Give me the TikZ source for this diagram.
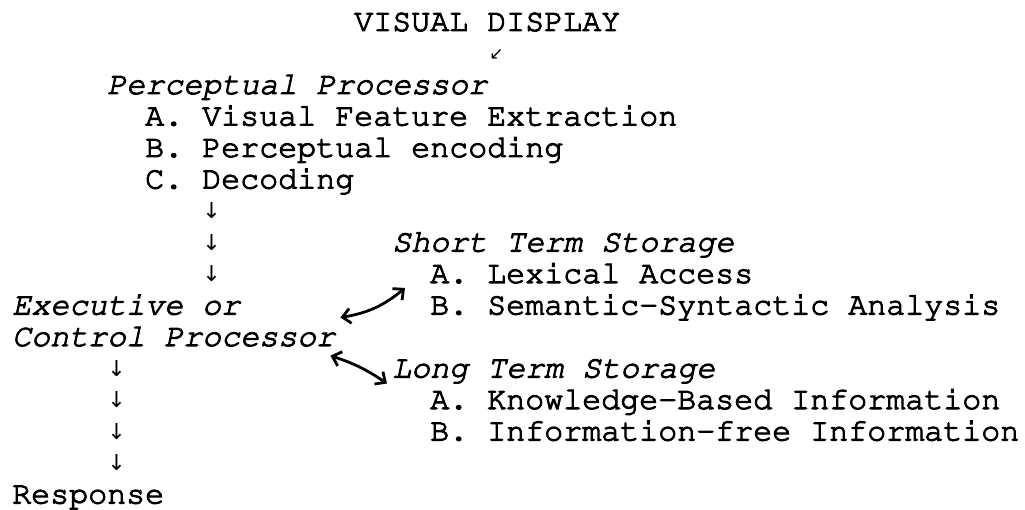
\documentclass[tikz,border=0pt]{standalone}
\usepackage[T1]{fontenc}
\usepackage{fontspec}
\usetikzlibrary{arrows.meta,calc}
\newfontfamily\sym{DejaVu Sans}
\newcommand\cour{\fontencoding{T1}\fontfamily{pcr}\fontseries{m}\fontshape{n}\selectfont}
\newcommand\heavy[1]{\special{pdf:code 2 Tr 1.0 w}#1\special{pdf:code 0 Tr}}
\tikzset{
  txt/.style={anchor=base west, inner sep=0pt, font=\cour\fontsize{31.67}{38}\selectfont},
  ital/.style={anchor=base west, inner sep=0pt, font=\cour\itshape\fontsize{31.67}{38}\selectfont},
  dn/.style={inner sep=0pt, font=\sym\fontsize{22}{22}\selectfont},
  sm/.style={inner sep=0pt, font=\sym\fontsize{17}{17}\selectfont},
  dbl/.style={{Straight Barb[length=8pt,width=15pt]}-{Straight Barb[length=8pt,width=15pt]}, line width=2.8pt, line cap=round}
}
\begin{document}
\begin{tikzpicture}[x=1pt,y=-1pt]
\useasboundingbox (0,0) rectangle (1025,510);
\node[txt] (vd) at (354,31) {\heavy{VISUAL DISPLAY}};
\node[sm] (sw) at (496.5,55) {↙};
\node[ital] (pp) at (107,94) {\heavy{Perceptual Processor}};
\node[txt] (pa) at (145,125.5) {\heavy{A. Visual Feature Extraction}};
\node[txt] (pb) at (145,157) {\heavy{B. Perceptual encoding}};
\node[txt] (pc) at (145,188.5) {\heavy{C. Decoding}};
\node[dn] (d1) at (211.5,211) {↓};
\node[dn] (d2) at (211.5,242.5) {↓};
\node[dn] (d3) at (211.5,274) {↓};
\node[ital] (st) at (392,251.5) {\heavy{Short Term Storage}};
\node[txt] (sa) at (430,283) {\heavy{A. Lexical Access}};
\node[txt] (sb) at (430,314.5) {\heavy{B. Semantic-Syntactic Analysis}};
\node[ital] (ex) at (12,314.5) {\heavy{Executive or}};
\node[ital] (cp) at (12,346) {\heavy{Control Processor}};
\node[ital] (lt) at (392,377.5) {\heavy{Long Term Storage}};
\node[txt] (la) at (430,409) {\heavy{A. Knowledge-Based Information}};
\node[txt] (lb) at (430,440.5) {\heavy{B. Information-free Information}};
\node[dn] (d4) at (116.5,368.5) {↓};
\node[dn] (d5) at (116.5,400) {↓};
\node[dn] (d6) at (116.5,431.5) {↓};
\node[dn] (d7) at (116.5,463) {↓};
\node[txt] (rs) at (12,503.5) {\heavy{Response}};
\coordinate (u1) at ($(cp.north east)+(5,-8)$);
\coordinate (u2) at ($(sa.base west)+(-25,5)$);
\coordinate (l1) at ($(cp.south east)+(-5,9)$);
\coordinate (l2) at ($(lt.base west)+(-5,6)$);
\draw[dbl] (u1) to[bend right=15] (u2);
\draw[dbl] (l1) to[bend left=8] (l2);
\end{tikzpicture}
\end{document}
